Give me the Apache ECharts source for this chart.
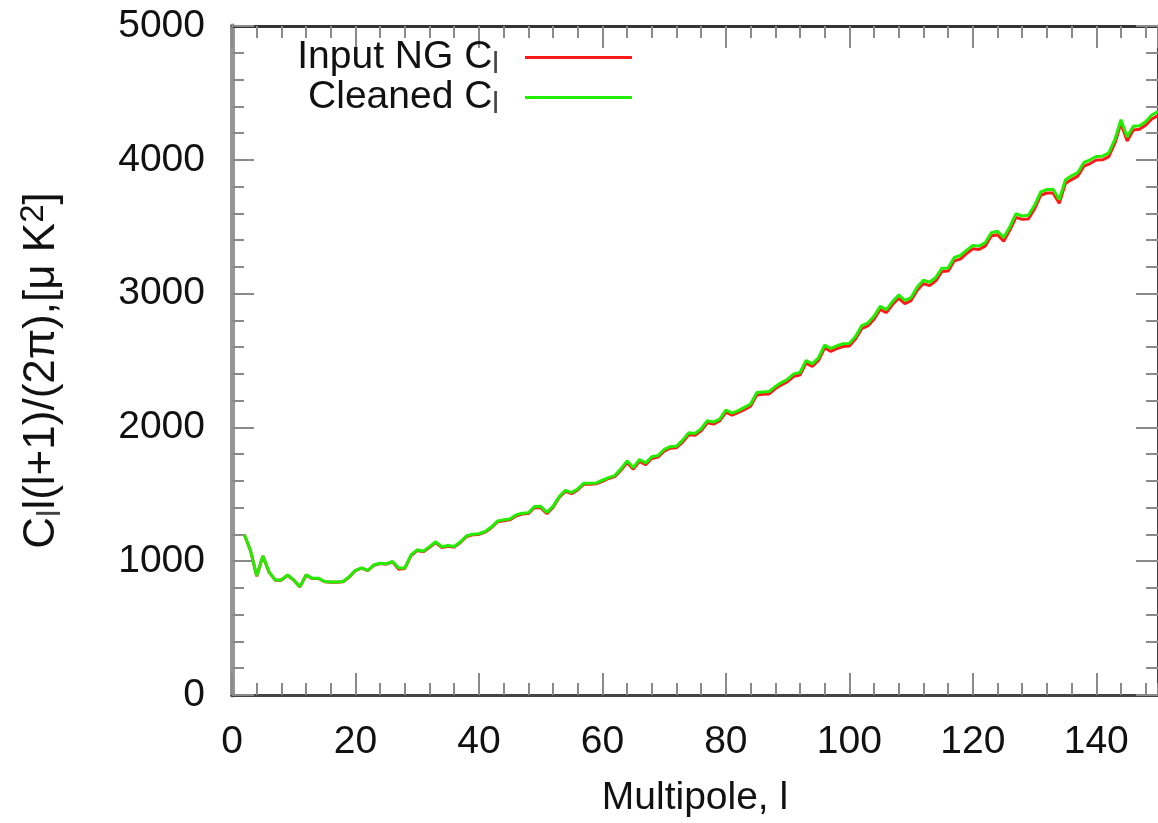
<!DOCTYPE html>
<html><head><meta charset="utf-8">
<script src="https://cdn.jsdelivr.net/npm/echarts@6/dist/echarts.min.js"></script>
<style>html,body{margin:0;padding:0;background:#fff}#c{width:1158px;height:823px}</style>
</head><body><div id="c"></div>
<script>
// Multipole l runs from 2 to 150 (one value per l)
const firstMultipole = 2;
const cleanedCl = [
 1200,1080,890,1040,920,860,860,898,860,810,898,873,873,848,845,845,848,885,932,
 950,932,973,985,980,998,950,950,1047,1085,1075,1109,1145,1108,1118,1110,1145,1190,1202,
 1205,1222,1255,1300,1309,1315,1345,1359,1362,1409,1410,1365,1410,1483,1530,1513,1540,1583,1583,
 1585,1605,1625,1640,1690,1750,1700,1760,1735,1780,1790,1835,1857,1860,1905,1960,1955,1990,
 2050,2040,2062,2130,2107,2125,2150,2175,2260,2265,2268,2305,2335,2360,2400,2410,2500,2475,
 2520,2615,2590,2610,2625,2628,2680,2760,2780,2830,2905,2880,2940,2990,2950,2970,3050,3100,
 3085,3120,3190,3192,3270,3285,3325,3360,3355,3380,3455,3466,3420,3500,3598,3580,3585,3660,
 3760,3778,3780,3703,3850,3880,3905,3980,4000,4025,4027,4050,4150,4300,4170,4250,4255,4285,
 4335,4360
];
const inputCl = [
 1200,1078,888,1038,918,858,858,895,858,808,895,870,871,846,843,843,846,882,930,
 948,930,970,982,978,995,940,946,1042,1080,1070,1104,1140,1102,1112,1105,1140,1185,1197,
 1200,1217,1250,1294,1303,1309,1338,1352,1356,1402,1400,1355,1402,1476,1522,1505,1533,1575,1576,
 1578,1596,1618,1632,1680,1738,1688,1745,1722,1768,1778,1822,1845,1848,1890,1945,1942,1975,
 2035,2025,2048,2112,2092,2110,2132,2158,2242,2248,2250,2288,2318,2342,2382,2392,2480,2455,
 2500,2595,2568,2590,2605,2608,2660,2738,2758,2808,2882,2858,2918,2965,2925,2948,3025,3075,
 3060,3095,3165,3168,3245,3258,3300,3335,3330,3355,3430,3440,3392,3475,3570,3555,3558,3632,
 3735,3752,3752,3675,3822,3852,3878,3952,3972,3998,4000,4022,4122,4272,4140,4222,4228,4258,
 4305,4330
];
const seriesNames = ['Input NG C_l', 'Cleaned C_l'];
const seriesColors = ['#ff1a1a', '#22ee00'];

const FONT = '"Liberation Sans", Arial, Helvetica, sans-serif';
const toPairs = arr => arr.map((v, i) => [firstMultipole + i, v]);

const legendRich = {
  a: {fontSize: 39, fontFamily: FONT, color: '#111', lineHeight: 44},
  sl: {fontSize: 30, fontFamily: FONT, color: '#444', lineHeight: 18, verticalAlign: 'bottom', padding: [0, 21, 0, 0]}
};
const nameRich = {
  a: {fontSize: 44, fontFamily: FONT, color: '#111', lineHeight: 50},
  s: {fontSize: 33, fontFamily: FONT, color: '#444', lineHeight: 20, verticalAlign: 'bottom'},
  p: {fontSize: 33, fontFamily: FONT, color: '#111', lineHeight: 20, verticalAlign: 'top'},
  e: {fontSize: 44, fontFamily: FONT, color: '#111', lineHeight: 50, padding: [0, 20, 0, 0]}
};

const tickGray = '#8a8a8a';
function xAxisDef(pos, interval, len, main) {
  return {
    type: 'value', position: pos, min: 0, max: 150, interval: interval,
    axisLine: {show: main, onZero: false, lineStyle: {color: pos === 'top' ? '#333' : '#444', width: 3}},
    axisTick: {show: true, inside: true, length: len, lineStyle: {color: tickGray, width: 2}},
    axisLabel: {show: main && pos === 'bottom', showMaxLabel: false, fontSize: 39, fontFamily: FONT, color: '#111', margin: 28,
                formatter: v => String(v)},
    splitLine: {show: false}
  };
}
const xMain = xAxisDef('bottom', 20, 22, true);
xMain.name = 'Multipole, l';
xMain.nameLocation = 'middle';
xMain.nameGap = 84;
xMain.nameTextStyle = {fontSize: 39, fontFamily: FONT, color: '#111'};

function yAxisDef(pos, main) {
  return {
    type: 'value', position: pos, min: 0, max: 5000, interval: 1000,
    axisLine: {show: true, onZero: false, lineStyle: {color: main ? '#969696' : '#444', width: main ? 5 : 3}},
    axisTick: {show: true, inside: true, length: 22, lineStyle: {color: tickGray, width: 2}},
    minorTick: {show: true, splitNumber: 5, length: 12, lineStyle: {color: tickGray, width: 2}},
    axisLabel: {show: main, fontSize: 39, fontFamily: FONT, color: '#111', margin: 27, formatter: v => String(v)},
    splitLine: {show: false}, minorSplitLine: {show: false}
  };
}
const yMain = yAxisDef('left', true);
yMain.name = '{a|C}{s|l}{a|l(l+1)/(2π),[μ K}{p|2}{e|]}';
yMain.nameLocation = 'middle';
yMain.nameGap = 165;
yMain.nameRotate = 90;
yMain.nameTextStyle = {rich: nameRich};

function legendDef(name, top) {
  return {
    data: [name], right: 521, top: top, orient: 'vertical', align: 'right',
    icon: 'rect', itemWidth: 107, itemHeight: 3, selectedMode: false,
    formatter: n => '{a|' + n.replace('_l', '') + '}{sl|l}',
    textStyle: {rich: legendRich}
  };
}

const chart = echarts.init(document.getElementById('c'), null, {renderer: 'canvas'});
chart.setOption({
  animation: false,
  backgroundColor: '#fff',
  grid: {left: 232, right: 0, top: 26, bottom: 128, containLabel: false, outerBoundsMode: 'none'},
  legend: [legendDef(seriesNames[0], 33), legendDef(seriesNames[1], 73)],
  xAxis: [xMain, xAxisDef('bottom', 4, 12, false), xAxisDef('top', 20, 22, true), xAxisDef('top', 4, 12, false)],
  yAxis: [yMain, yAxisDef('right', false)],
  series: [
    {name: seriesNames[0], type: 'line', xAxisIndex: 0, yAxisIndex: 0, data: toPairs(inputCl),
     symbol: 'none', lineStyle: {color: seriesColors[0], width: 3}, itemStyle: {color: seriesColors[0]}},
    {name: seriesNames[1], type: 'line', xAxisIndex: 0, yAxisIndex: 0, data: toPairs(cleanedCl),
     symbol: 'none', lineStyle: {color: seriesColors[1], width: 3}, itemStyle: {color: seriesColors[1]}}
  ]
});
</script></body></html>
